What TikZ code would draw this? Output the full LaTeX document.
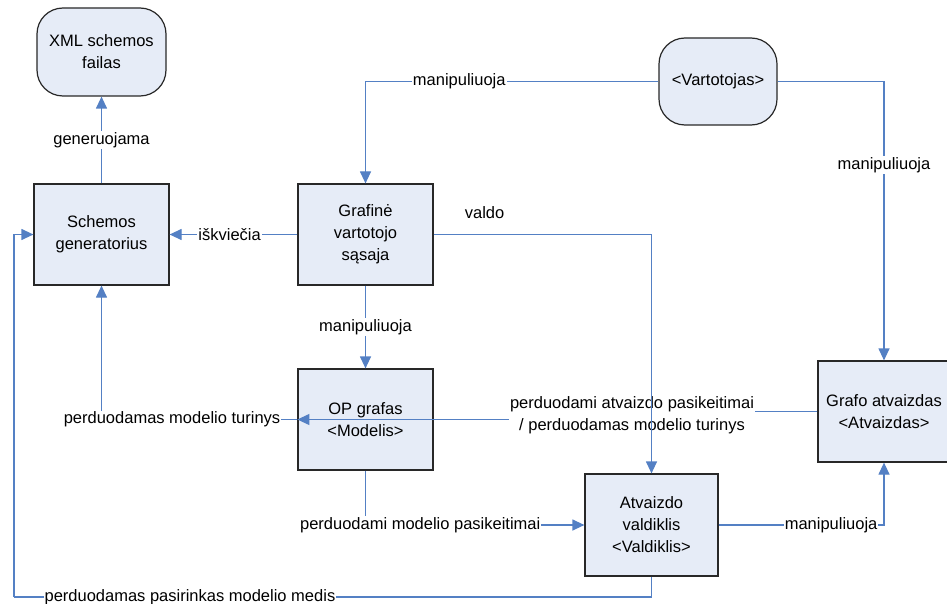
\documentclass[tikz,border=0pt]{standalone}
\usepackage{fontspec}
\setmainfont{Liberation Sans}
\usetikzlibrary{arrows.meta}
\definecolor{boxfill}{RGB}{230,236,247}
\definecolor{boxline}{RGB}{40,40,40}
\definecolor{flow}{RGB}{84,128,196}
\tikzset{
  every node/.style={font=\fontsize{16.5}{22}\selectfont},
  block/.style={draw=boxline, line width=1.2pt, fill=boxfill, align=center,
    minimum width=135pt, minimum height=101pt, inner sep=0pt},
  actor/.style={block, rounded corners=26pt},
  arr/.style={draw=flow, line width=1.2pt,
    -{Triangle[width=11pt,length=12pt]}},
  plain/.style={draw=flow, line width=1.2pt},
  lbl/.style={fill=white, inner sep=1pt, align=center},
  x=1pt, y=-1pt
}
\begin{document}
\begin{tikzpicture}
\useasboundingbox (0,0) rectangle (947,604);

% components
\node[actor, minimum width=129pt, minimum height=88pt] (xml) at (101.5,52) {XML schemos\\failas};
\node[block] (sg)  at (101.5,234.5) {Schemos\\generatorius};
\node[block] (gui) at (365.5,234.5) {Grafinė\\vartotojo\\sąsaja};
\node[actor, minimum width=118pt, minimum height=87pt] (user) at (718,81.5) {<Vartotojas>};
\node[block] (op)  at (365.5,419.5) {OP grafas\\<Modelis>};
\node[block, minimum width=133pt, minimum height=102pt] (ctl) at (651.5,525) {Atvaizdo\\valdiklis\\<Valdiklis>};
\node[block, minimum width=132pt] (view) at (884,411.5) {Grafo atvaizdas\\<Atvaizdas>};
\coordinate (loop) at (14,597);

% two-line label of the view-to-model flow; the control line crosses over it
\node[lbl] (back) at (632,415) {perduodami atvaizdo pasikeitimai\\/ perduodamas modelio turinys};
\draw[plain] (view.west) -- (back.east |- view.west);
\draw[arr] (back.west |- op.west) -- (op.west);

% connectors
\draw[arr] (sg.north) -- (xml.south) node[lbl, pos=0.5] {generuojama};
\draw[arr] (gui.west) -- (sg.east) node[lbl, pos=0.53] {iškviečia};
\draw[arr] (user.west) -| (gui.north) node[lbl, pos=0.34] {manipuliuoja};
\draw[arr] (user.east) -| (view.north) node[lbl, pos=0.65] {manipuliuoja};
\draw[arr] (gui.east) -| (ctl.north) node[pos=0.117, yshift=22pt, inner sep=0pt] {valdo};
\draw[arr] (gui.south) -- (op.north) node[lbl, pos=0.5] {manipuliuoja};
\draw[arr] (op.west) -| (sg.south) node[lbl, pos=0.32] {perduodamas modelio turinys};
\draw[arr] (op.south) |- (ctl.west) node[lbl, pos=0.625] {perduodami modelio pasikeitimai};
\draw[arr] (ctl.east) -| (view.south) node[lbl, pos=0.34] {manipuliuoja};
\draw[plain] (ctl.south) |- (loop) node[lbl, pos=0.862] {perduodamas pasirinkas modelio medis};
\draw[arr] (loop) |- (sg.west);
\end{tikzpicture}
\end{document}
